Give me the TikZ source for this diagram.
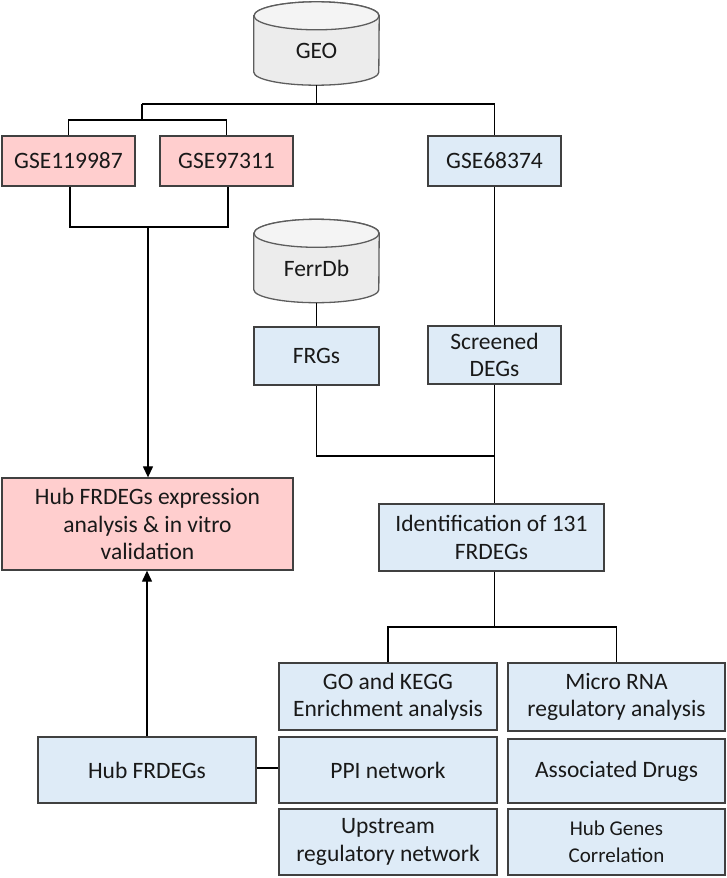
\documentclass[tikz,border=0pt]{standalone}
\usepackage{fontspec}
\setmainfont{Carlito}
\usetikzlibrary{arrows.meta,backgrounds}
\definecolor{pinkfill}{RGB}{255,206,206}
\definecolor{bluefill}{RGB}{222,235,247}
\definecolor{cylfill}{RGB}{236,236,236}
\definecolor{boxline}{RGB}{64,64,64}
\definecolor{txt}{RGB}{25,25,25}
\tikzset{
  basebox/.style={draw=boxline, line width=1.3pt, align=center, inner sep=2pt,
    text=txt, font=\fontsize{23.5pt}{27.5pt}\selectfont},
  pinkbox/.style={basebox, fill=pinkfill},
  bluebox/.style={basebox, fill=bluefill},
  cylnode/.style={draw=none, minimum width=125pt, minimum height=83pt, inner sep=0pt,
    text=txt, font=\fontsize{23.5pt}{27.5pt}\selectfont},
  cylline/.style={draw=boxline!85, line width=1.3pt, fill=cylfill},
  conn/.style={draw=black, line width=1.2pt},
  arr/.style={conn, -{Triangle[length=11pt,width=10pt]}}
}
\newcommand{\drawcyl}[1]{%
  \begin{pgfonlayer}{background}
  \draw[cylline] ([yshift=-14pt]#1.north west) -- ([yshift=13pt]#1.south west)
    arc[start angle=180, end angle=360, x radius=62.5pt, y radius=13pt]
    -- ([yshift=-14pt]#1.north east)
    arc[start angle=0, end angle=180, x radius=62.5pt, y radius=14pt] -- cycle;
  \draw[cylline, fill=cylfill!60!white] ([yshift=-14pt]#1.north) ellipse[x radius=62.5pt, y radius=14pt];
  \end{pgfonlayer}
}
\begin{document}
\begin{tikzpicture}[x=1pt, y=-1pt]
\useasboundingbox (0,0) rectangle (726,878);

% databases
\node[cylnode] (geo) at (316.5,43.5) {\raisebox{-7pt}[\height][\depth]{GEO}};
\node[cylnode] (ferr) at (316.5,261) {\raisebox{-7pt}[\height][\depth]{FerrDb}};
\drawcyl{geo}
\drawcyl{ferr}

% datasets
\node[pinkbox, minimum width=133pt, minimum height=50pt] (gse1) at (68.5,161) {GSE119987};
\node[pinkbox, minimum width=133pt, minimum height=50pt] (gse2) at (226.5,161) {GSE97311};
\node[bluebox, minimum width=133pt, minimum height=50pt] (gse3) at (494.5,161) {GSE68374};

\node[bluebox, minimum width=125pt, minimum height=58pt] (frgs) at (316.5,356) {FRGs};
\node[bluebox, minimum width=133pt, minimum height=58pt] (sdeg) at (494.5,355) {Screened\\DEGs};

\node[pinkbox, minimum width=291pt, minimum height=92pt] (expr) at (147.5,524)
  {Hub FRDEGs expression\\analysis \& in vitro\\validation};
\node[bluebox, minimum width=225pt, minimum height=67pt] (ident) at (491.5,537.5)
  {Identification of 131\\FRDEGs};

\node[bluebox, minimum width=218pt, minimum height=67pt] (go) at (388,696.5)
  {GO and KEGG\\Enrichment analysis};
\node[bluebox, minimum width=217pt, minimum height=68pt] (mirna) at (616.5,697)
  {Micro RNA\\regulatory analysis};
\node[bluebox, minimum width=218pt, minimum height=66pt] (hub) at (147,770) {Hub FRDEGs};
\node[bluebox, minimum width=218pt, minimum height=66pt] (ppi) at (388,770) {PPI network};
\node[bluebox, minimum width=217pt, minimum height=64pt] (drugs) at (616.5,771) {Associated Drugs};
\node[bluebox, minimum width=218pt, minimum height=66pt] (up) at (388,842)
  {Upstream\\regulatory network};
\node[bluebox, minimum width=217pt, minimum height=66pt] (corr) at (616.5,842)
  {\fontsize{21pt}{27pt}\selectfont Hub Genes\\\fontsize{21pt}{27pt}\selectfont Correlation};

% junctions
\coordinate (j1) at (316.5,104);
\coordinate (ja) at (142,104);
\coordinate (jb) at (142,120);
\coordinate (jc) at (148,227);
\coordinate (jd) at (494.5,456);
\coordinate (je) at (494.5,627);

% connectors
\draw[conn] (geo.south) -- (j1);
\draw[conn] (ja) -- (gse3.north |- ja) -- (gse3.north);
\draw[conn] (ja) -- (jb);
\draw[conn] (gse1.north) |- (jb) -| (gse2.north);
\draw[conn] ([xshift=1.5pt]gse1.south) |- (jc) -| ([xshift=1.5pt]gse2.south);
\draw[arr] (jc) -- (jc |- expr.north);
\draw[conn] (gse3.south) -- (sdeg.north);
\draw[conn] (ferr.south) -- (frgs.north);
\draw[conn] (frgs.south) |- (jd);
\draw[conn] (sdeg.south) -- (sdeg.south |- ident.north);
\draw[conn] (sdeg.south |- ident.south) -- (je);
\draw[conn] (go.north) |- (je) -| (mirna.north);
\draw[arr] (hub.north) -- (hub.north |- expr.south);
\draw[conn] ([yshift=2pt]hub.east) -- ([yshift=2pt]ppi.west);
\end{tikzpicture}
\end{document}
